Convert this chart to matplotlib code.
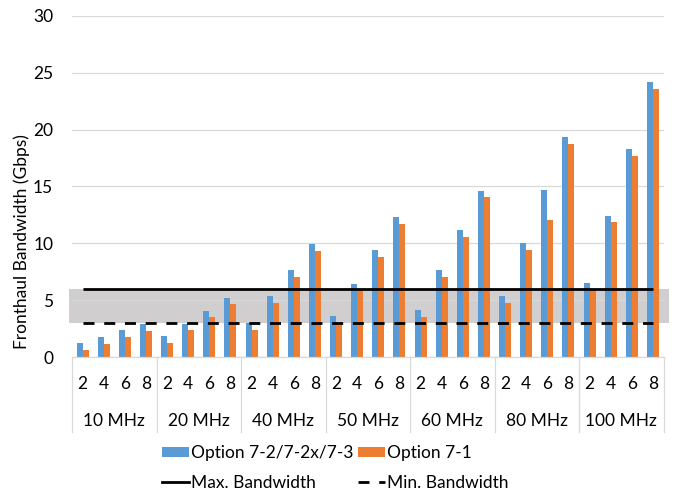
import matplotlib
matplotlib.use("Agg")
import matplotlib.pyplot as plt
import matplotlib.transforms as mtransforms
from matplotlib.lines import Line2D
from matplotlib.patches import Patch
import numpy as np

plt.rcParams['font.family'] = ['Lato', 'DejaVu Sans']

# ---- data ----
bandwidths = ['10 MHz', '20 MHz', '40 MHz', '50 MHz', '60 MHz', '80 MHz', '100 MHz']
antennas = ['2', '4', '6', '8']
option_72 = [1.23, 1.78, 2.37, 2.92,
             1.84, 2.92, 4.09, 5.23,
             2.98, 5.35, 7.66, 9.97,
             3.60, 6.46, 9.38, 12.31,
             4.18, 7.66, 11.14, 14.62,
             5.35, 10.02, 14.68, 19.32,
             6.55, 12.42, 18.27, 24.15]
option_71 = [0.64, 1.20, 1.78, 2.31,
             1.23, 2.37, 3.51, 4.65,
             2.40, 4.74, 7.05, 9.36,
             2.98, 5.88, 8.80, 11.69,
             3.56, 7.04, 10.55, 14.06,
             4.76, 9.41, 12.10, 18.77,
             5.96, 11.84, 17.69, 23.56]
max_bandwidth = 6
min_bandwidth = 3
y_ticks = [0, 5, 10, 15, 20, 25, 30]

BLUE = '#5B9BD5'
ORANGE = '#ED7D31'
GRID = '#D9D9D9'
BAND = '#D0CECE'
FS = 12.5

fig = plt.figure(figsize=(6.78, 4.92), dpi=100)
ax = fig.add_axes([72 / 678, 1 - 357.3 / 492, 591.5 / 678, 341.6 / 492])

n = len(option_72)
x = np.arange(n)
w = 0.284

ax.bar(x - w / 2, option_72, width=w, color=BLUE, zorder=2, linewidth=0)
ax.bar(x + w / 2, option_71, width=w, color=ORANGE, zorder=2, linewidth=0)

# shaded band between min and max bandwidth
ax.fill_between([-0.64, n - 0.24], [min_bandwidth] * 2, [max_bandwidth] * 2,
                color=BAND, linewidth=0, zorder=0.4, clip_on=False)

ax.plot(x, np.full(n, max_bandwidth), color='black', lw=2.0, zorder=3,
        solid_capstyle='butt')
ax.plot(x, np.full(n, min_bandwidth), color='black', lw=2.0, zorder=3,
        dashes=(3.96, 3.5), dash_capstyle='butt')

ax.set_xlim(-0.5, n - 0.5)
ax.set_ylim(0, 30)
ax.set_yticks(y_ticks)
ax.set_axisbelow(True)
ax.yaxis.grid(True, color=GRID, linewidth=0.9, zorder=0.5)
ax.tick_params(axis='y', length=0, pad=13.5, labelsize=FS)
ax.set_xticks(x, antennas * len(bandwidths))
ax.tick_params(axis='x', length=0, pad=13.6, labelsize=FS)
for s in ['left', 'right', 'top']:
    ax.spines[s].set_visible(False)
ax.spines['bottom'].set_color(GRID)
ax.spines['bottom'].set_linewidth(0.9)

# group labels and separators
trans = mtransforms.blended_transform_factory(ax.transData, ax.transAxes)
for i, name in enumerate(bandwidths):
    ax.text(i * 4 + 1.5, -0.2011, name, transform=trans, ha='center',
            va='baseline', fontsize=FS)
for k in range(len(bandwidths) + 1):
    ax.plot([k * 4 - 0.5, k * 4 - 0.5], [0, -0.2178], transform=trans,
            color=GRID, lw=0.9, clip_on=False)

fig.text(22 / 678, 1 - 241.7 / 492, 'Fronthaul Bandwidth (Gbps)', rotation=90,
         ha='center', va='center', fontsize=FS)

handles = [Patch(color=BLUE, linewidth=0), Line2D([], [], color='black', lw=2.0),
           Patch(color=ORANGE, linewidth=0),
           Line2D([], [], color='black', lw=2.0, dashes=(3.96, 3.5), dash_capstyle='butt')]
labels = ['Option 7-2/7-2x/7-3', 'Max. Bandwidth', 'Option 7-1', 'Min. Bandwidth']
fs_px = FS * 100 / 72
fig.legend(handles, labels, ncol=2, loc='upper left',
           bbox_to_anchor=(161.7 / 678, 1 - 445 / 492), frameon=False,
           fontsize=FS, borderpad=0, borderaxespad=0,
           handlelength=27 / fs_px, handleheight=9 / fs_px,
           handletextpad=2.5 / fs_px, columnspacing=4 / fs_px,
           labelspacing=14 / fs_px)

fig.savefig('out.png', dpi=100)
